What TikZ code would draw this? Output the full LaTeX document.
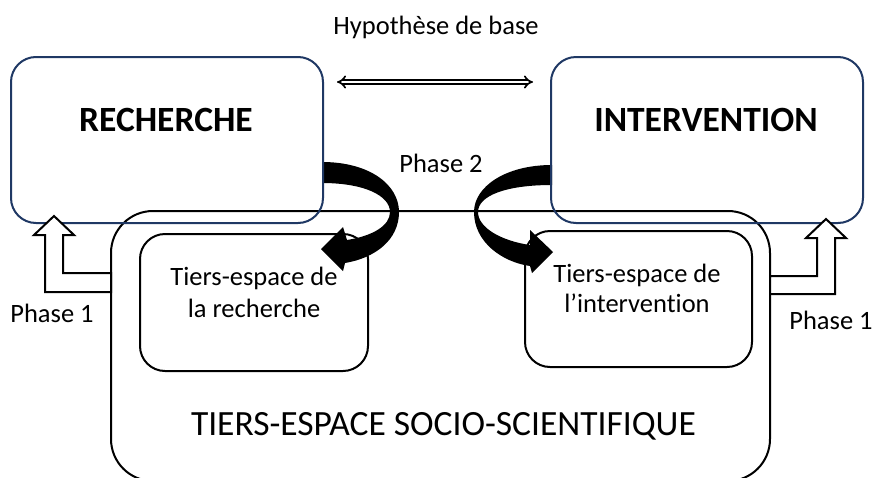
\documentclass[tikz,border=0pt]{standalone}
\usepackage{fontspec}
\setmainfont{Carlito}[Ligatures={NoCommon}]
\usetikzlibrary{arrows.meta,calc}
\definecolor{navy}{HTML}{1F3864}
\begin{document}
\begin{tikzpicture}[x=1pt,y=-1pt,
  mainbox/.style={draw=navy, line width=2pt, rounded corners=25pt, minimum width=312pt, minimum height=166pt, inner sep=0pt},
  bigbox/.style={draw=black, line width=2pt, rounded corners=42pt, minimum width=659pt, minimum height=270pt, inner sep=0pt},
  innerbox/.style={draw=black, line width=2pt, rounded corners=25pt, inner sep=0pt},
  lbl/.style={font=\fontsize{26.5}{32}\selectfont, inner sep=0pt, anchor=base},
  titletxt/.style={font=\bfseries\fontsize{35.5}{40}\selectfont, inner sep=0pt, anchor=base},
  bigtxt/.style={font=\fontsize{35.5}{40}\selectfont, inner sep=0pt, anchor=base},
  hollowarrow/.style={draw=black, fill=white, line width=2pt, line join=miter},
  curvedarrow/.style={fill=black, draw=none},
  doublearrow/.style={double=white, double distance=2.6pt, line width=1.7pt, {Implies}-{Implies}}
]
\useasboundingbox (0,0) rectangle (875,477);
\clip (0,0) rectangle (875,477);

% big socio-scientific box
\node[bigbox] (tess) at (440.5,346) {};
% inner boxes
\node[innerbox, minimum width=228pt, minimum height=137pt] (ter) at (254,302.5) {};
\node[innerbox, minimum width=227pt, minimum height=136pt] (tei) at (638.5,299) {};

% Phase 2 curved arrows
\fill[curvedarrow] (322,162) .. controls (370,162) and (399,185) .. (399,212)
  .. controls (399,240) and (375,258) .. (345,263) -- (343,271) -- (321,249) -- (343,227) -- (347,240)
  .. controls (372,236) and (390,226) .. (390,212)
  .. controls (390,196) and (365,183) .. (322,183) -- cycle;
\fill[curvedarrow] (552,165) .. controls (505,165) and (474,187) .. (474,212)
  .. controls (474,242) and (502,262) .. (530,266) -- (532,273) -- (553,252) -- (530,230) -- (530,245)
  .. controls (502,241) and (478,228) .. (478,212)
  .. controls (478,196) and (505,185) .. (552,185) -- cycle;

% top boxes
\node[mainbox] (rech) at (167,140) {};
\node[mainbox] (interv) at (707,140) {};

% double arrow
\draw[doublearrow] ($(rech.east)+(13,-58)$) -- ($(interv.west)+(-17,-58)$);

% Phase 1 hollow arrows
\draw[hollowarrow] (111,273) -- (63,273) -- (63,235) -- (74,235) -- (54,216) -- (34,235) -- (45,235) -- (45,292) -- (111,292) -- cycle;
\draw[hollowarrow] (770,276) -- (817,276) -- (817,238) -- (806,238) -- (826,219) -- (846,238) -- (835,238) -- (835,294) -- (770,294) -- cycle;

% texts
\node[lbl] (hyp) at (436,34) {Hypothèse de base};
\node[titletxt] (trech) at (166,131) {RECHERCHE};
\node[titletxt] (tint) at (706,131) {INTERVENTION};
\node[lbl] (ph2) at (441,172) {Phase 2};
\node[lbl] (ph1l) at (52,322) {Phase 1};
\node[lbl] (ph1r) at (831,329) {Phase 1};
\node[lbl] (ter1) at (254,285) {Tiers-espace de};
\node[lbl] (ter2) at (254,317) {la recherche};
\node[lbl] (tei1) at (637,282) {Tiers-espace de};
\node[lbl] (tei2) at (637,312) {l’intervention};
\node[bigtxt] (tesst) at (443.5,435) {TIERS-ESPACE SOCIO-SCIENTIFIQUE};
\end{tikzpicture}
\end{document}
